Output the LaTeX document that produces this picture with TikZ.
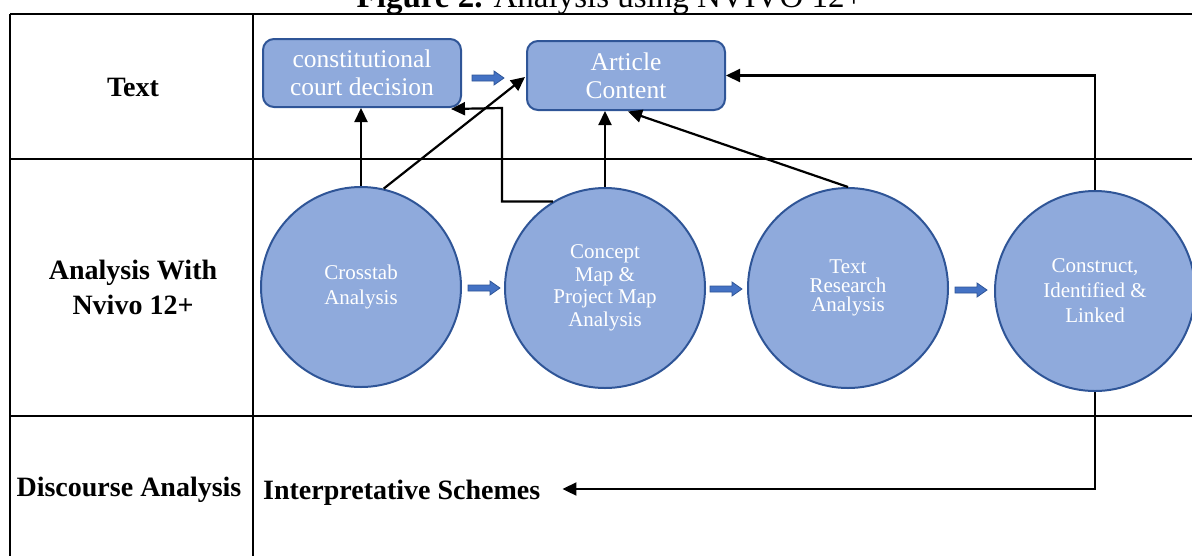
\documentclass[tikz,border=0pt]{standalone}
\usepackage{fontspec}
\setmainfont{Liberation Serif}
\usetikzlibrary{arrows.meta,calc}
\definecolor{boxfill}{HTML}{8FAADC}
\definecolor{boxline}{HTML}{2F5597}
\definecolor{barrow}{HTML}{4472C4}
\tikzset{
  grid/.style={line width=2pt,black},
  rbox/.style={draw=boxline,fill=boxfill,line width=2pt,rounded corners=11pt,
    minimum width=198pt,minimum height=68pt,text=white,align=center,
    font=\fontsize{25.5}{28}\selectfont,inner sep=0pt},
  circ/.style={circle,draw=boxline,fill=boxfill,line width=2pt,minimum size=200pt,
    text=white,align=center,inner sep=0pt},
  conn/.style={line width=2.2pt,black,-{Triangle[length=14pt,width=13pt]}},
  lbl/.style={font=\fontsize{28}{35}\selectfont\bfseries,align=center,inner sep=0pt},
  blk/.style={fill=barrow,draw=boxline,line width=0.8pt}
}
\newcommand\blockarr[2]{%
  \path[blk] (#1,#2-3) -- (#1+22,#2-3) -- (#1+22,#2-7) -- (#1+32,#2) -- (#1+22,#2+7) -- (#1+22,#2+3) -- (#1,#2+3) -- cycle;}
\begin{document}
\begin{tikzpicture}[x=1pt,y=-1pt]
\useasboundingbox (0,0) rectangle (1192,555);
\clip (0,0) rectangle (1192,555);
% title
\node[anchor=base,inner sep=0pt,font=\fontsize{33}{36}\selectfont] (title) at (610,7) {\textbf{Figure 2.} Analysis using NVIVO 12+};
% table
\draw[grid] (10,14) -- (1192,14);
\draw[grid] (10,14) -- (10,560);
\draw[grid] (253,14) -- (253,560);
\draw[grid] (10,159) -- (1192,159);
\draw[grid] (10,416) -- (1192,416);
% row labels
\node[lbl] (ltext) at (133,87) {Text};
\node[lbl] (lanalysis) at (133,287) {Analysis With\\Nvivo 12+};
\node[lbl] (ldisc) at (129,490) {Discourse Analysis};
\node[lbl,anchor=base west] (interp) at (263,499) {Interpretative Schemes};
% boxes
\node[rbox] (const) at (362,73) {constitutional\\court decision};
\node[rbox,minimum height=69pt] (article) at (626,75.5) {Article\\Content};
% circles
\node[circ,font=\fontsize{21}{25}\selectfont] (c1) at (361,287) {Crosstab\\Analysis};
\node[circ,font=\fontsize{21}{22.5}\selectfont] (c2) at (605,288) {Concept\\Map \&\\Project Map\\Analysis};
\node[circ,font=\fontsize{21}{19}\selectfont] (c3) at (848,288) {Text\\Research\\Analysis};
\node[circ,font=\fontsize{21}{25}\selectfont] (c4) at (1095,291) {Construct,\\Identified \&\\Linked};
% block arrows
\blockarr{472}{78}
\blockarr{468}{288}
\blockarr{710}{289}
\blockarr{955}{290}
% connectors
\draw[conn] (c1.north) -- (c1.north |- const.south);
\draw[conn] (c1.77) -- ($(article.west)+(-1,1.5)$);
\coordinate (k2) at (502,108);
\draw[conn] (c2.121) -- (c2.121 -| k2) -- (k2) -- ($(const.south east)+(-11,1)$);
\draw[conn] (c2.north) -- (c2.north |- article.south);
\draw[conn] (c3.north) -- ($(article.south)+(2,0.5)$);
\draw[conn] (c4.north) |- (article.east);
\coordinate (ie) at ($(interp.base east)+(22,-10)$);
\draw[conn] (c4.south) |- (ie);
\end{tikzpicture}
\end{document}
